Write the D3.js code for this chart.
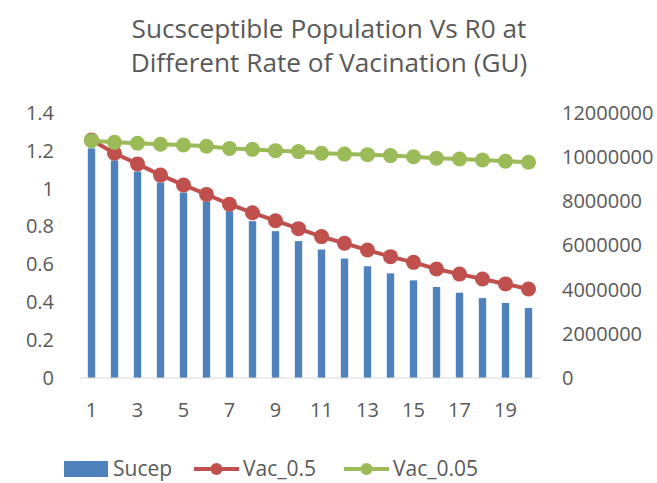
<!DOCTYPE html>
<html>
<head>
<meta charset="utf-8">
<script src="https://cdn.jsdelivr.net/npm/d3@7"></script>
<style>
  body { margin: 0; background: #fff; }
  text { font-family: "Open Sans", sans-serif; fill: #595959; }
</style>
</head>
<body>
<div id="chart"></div>
<script>
// periods 1..20
var periods = d3.range(1, 21);
// susceptible population (right axis)
var sucep = [10400000, 9850000, 9350000, 8850000, 8400000, 7990000, 7550000, 7100000, 6650000, 6200000,
             5820000, 5410000, 5060000, 4740000, 4420000, 4120000, 3860000, 3620000, 3400000, 3170000];
// R0 at vaccination rate 0.5 (left axis)
var vac05 = [1.257, 1.187, 1.131, 1.072, 1.020, 0.970, 0.918, 0.873, 0.831, 0.789,
             0.747, 0.712, 0.676, 0.641, 0.611, 0.576, 0.549, 0.523, 0.497, 0.470];
// R0 at vaccination rate 0.05 (left axis)
var vac005 = [1.254, 1.245, 1.240, 1.235, 1.231, 1.224, 1.213, 1.208, 1.201, 1.196,
              1.187, 1.183, 1.180, 1.175, 1.169, 1.161, 1.157, 1.152, 1.145, 1.140];
var leftTicks = [0, 0.2, 0.4, 0.6, 0.8, 1, 1.2, 1.4];
var rightTicks = [0, 2000000, 4000000, 6000000, 8000000, 10000000, 12000000];
var xTicks = [1, 3, 5, 7, 9, 11, 13, 15, 17, 19];
var seriesNames = ["Sucep", "Vac_0.5", "Vac_0.05"];

var width = 657, height = 483;
var margin = {top: 113, right: 117, bottom: 105, left: 80};
var tickFont = "20px";

var svg = d3.select("#chart").append("svg")
    .attr("width", width)
    .attr("height", height);

// title
var title = svg.append("text")
    .attr("text-anchor", "middle")
    .style("font-size", "26.2px");
title.append("tspan").attr("x", 329).attr("y", 38).text("Sucsceptible Population Vs R0 at");
title.append("tspan").attr("x", 329).attr("y", 72).text("Different Rate of Vacination (GU)");

var x = d3.scaleBand()
    .domain(periods)
    .range([margin.left, width - margin.right])
    .paddingInner(0.68)
    .paddingOuter(0.34);

var yL = d3.scaleLinear().domain([0, 1.4]).range([height - margin.bottom, margin.top]);
var yR = d3.scaleLinear().domain([0, 12000000]).range([height - margin.bottom, margin.top]);

// bars
svg.append("g").selectAll("rect")
    .data(sucep)
  .enter().append("rect")
    .attr("x", function(d, i) { return x(periods[i]); })
    .attr("y", function(d) { return yR(d); })
    .attr("width", x.bandwidth())
    .attr("height", function(d) { return yR(0) - yR(d); })
    .style("fill", "#4F81BD");

// x axis line
svg.append("line")
    .attr("x1", margin.left).attr("x2", width - margin.right)
    .attr("y1", yL(0)).attr("y2", yL(0))
    .style("stroke", "#D9D9D9").style("stroke-width", 1);

// left axis
var leftAxis = d3.axisLeft(yL).tickValues(leftTicks).tickSize(0).tickPadding(26)
    .tickFormat(function(d) { return String(d); });
var gl = svg.append("g").attr("transform", "translate(" + margin.left + ",0)").call(leftAxis);
gl.select(".domain").remove();
gl.selectAll("text").style("font-size", tickFont).style("font-family", "Open Sans").attr("fill", "#595959");

// right axis
var rightAxis = d3.axisRight(yR).tickValues(rightTicks).tickSize(0).tickPadding(22)
    .tickFormat(d3.format("d"));
var gr = svg.append("g").attr("transform", "translate(" + (width - margin.right) + ",0)").call(rightAxis);
gr.select(".domain").remove();
gr.selectAll("text").style("font-size", tickFont).style("font-family", "Open Sans").attr("fill", "#595959");

// bottom axis
var bottomAxis = d3.axisBottom(x).tickValues(xTicks).tickSize(0).tickPadding(25);
var gb = svg.append("g").attr("transform", "translate(0," + yL(0) + ")").call(bottomAxis);
gb.select(".domain").remove();
gb.selectAll("text").style("font-size", tickFont).style("font-family", "Open Sans").attr("fill", "#595959");

function cx(i) { return x(periods[i]) + x.bandwidth() / 2; }

function drawLine(values, color) {
  var line = d3.line()
      .x(function(d, i) { return cx(i); })
      .y(function(d) { return yL(d); });
  svg.append("path")
      .datum(values)
      .attr("d", line)
      .style("fill", "none")
      .style("stroke", color)
      .style("stroke-width", 4);
  svg.append("g").selectAll("circle")
      .data(values)
    .enter().append("circle")
      .attr("cx", function(d, i) { return cx(i); })
      .attr("cy", function(d) { return yL(d); })
      .attr("r", 7.5)
      .style("fill", color);
}
drawLine(vac05, "#C0504D");
drawLine(vac005, "#9BBB59");

// legend
var legend = svg.append("g");
var ly = 469;
var legendFont = "21px";
legend.append("rect").attr("x", 64).attr("y", ly - 8).attr("width", 44).attr("height", 16).style("fill", "#4F81BD");
legend.append("text").attr("x", 113).attr("y", ly).attr("dy", "0.35em").style("font-size", legendFont).text(seriesNames[0]);

[[194, "#C0504D", seriesNames[1]], [344, "#9BBB59", seriesNames[2]]].forEach(function(s) {
  legend.append("line").attr("x1", s[0]).attr("x2", s[0] + 45).attr("y1", ly).attr("y2", ly)
      .style("stroke", s[1]).style("stroke-width", 4);
  legend.append("circle").attr("cx", s[0] + 22.5).attr("cy", ly).attr("r", 6).style("fill", s[1]);
  legend.append("text").attr("x", s[0] + 49).attr("y", ly).attr("dy", "0.35em").style("font-size", legendFont).text(s[2]);
});
</script>
</body>
</html>
